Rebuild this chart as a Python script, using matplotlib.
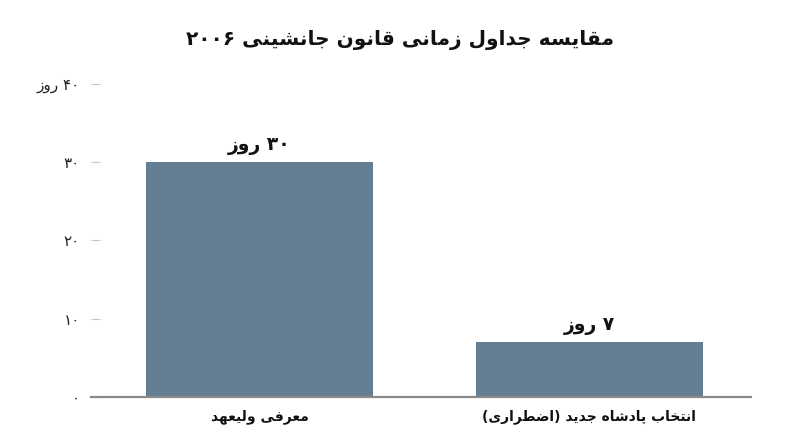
"""Persian bar chart: succession law timelines (2006)."""

import re

import matplotlib

matplotlib.use("Agg")
import matplotlib.pyplot as plt

# --- data -------------------------------------------------------------
title = "مقایسه جداول زمانی قانون جانشینی ۲۰۰۶"
categories = ["معرفی ولیعهد", "انتخاب پادشاه جدید (اضطراری)"]
days = [30, 7]
bar_labels = ["۳۰ روز", "۷ روز"]
y_ticks = [0, 10, 20, 30, 40]
y_tick_labels = ["۰", "۱۰", "۲۰", "۳۰", "۴۰ روز"]

# --- minimal arabic/persian shaping (matplotlib does no shaping or bidi) ----
# letter: (isolated, final, initial, medial); right-joining letters have 2 forms
_FORMS = {
    "ا": ("\uFE8D", "\uFE8E"),
    "ب": ("\uFE8F", "\uFE90", "\uFE91", "\uFE92"),
    "پ": ("\uFB56", "\uFB57", "\uFB58", "\uFB59"),
    "ت": ("\uFE95", "\uFE96", "\uFE97", "\uFE98"),
    "ج": ("\uFE9D", "\uFE9E", "\uFE9F", "\uFEA0"),
    "خ": ("\uFEA5", "\uFEA6", "\uFEA7", "\uFEA8"),
    "د": ("\uFEA9", "\uFEAA"),
    "ر": ("\uFEAD", "\uFEAE"),
    "ز": ("\uFEAF", "\uFEB0"),
    "س": ("\uFEB1", "\uFEB2", "\uFEB3", "\uFEB4"),
    "ش": ("\uFEB5", "\uFEB6", "\uFEB7", "\uFEB8"),
    "ض": ("\uFEBD", "\uFEBE", "\uFEBF", "\uFEC0"),
    "ط": ("\uFEC1", "\uFEC2", "\uFEC3", "\uFEC4"),
    "ع": ("\uFEC9", "\uFECA", "\uFECB", "\uFECC"),
    "ف": ("\uFED1", "\uFED2", "\uFED3", "\uFED4"),
    "ق": ("\uFED5", "\uFED6", "\uFED7", "\uFED8"),
    "ل": ("\uFEDD", "\uFEDE", "\uFEDF", "\uFEE0"),
    "م": ("\uFEE1", "\uFEE2", "\uFEE3", "\uFEE4"),
    "ن": ("\uFEE5", "\uFEE6", "\uFEE7", "\uFEE8"),
    "ه": ("\uFEE9", "\uFEEA", "\uFEEB", "\uFEEC"),
    "و": ("\uFEED", "\uFEEE"),
    "ی": ("\uFBFC", "\uFBFD", "\uFBFE", "\uFBFF"),
}
_MIRROR = {"(": ")", ")": "("}


def fa(text):
    out = []
    for i, ch in enumerate(text):
        forms = _FORMS.get(ch)
        if forms is None:
            out.append(ch)
            continue
        prev = text[i - 1] if i > 0 else ""
        nxt = text[i + 1] if i + 1 < len(text) else ""
        join_prev = prev in _FORMS and len(_FORMS[prev]) == 4
        join_next = len(forms) == 4 and nxt in _FORMS
        if join_prev and join_next:
            out.append(forms[3])
        elif join_prev:
            out.append(forms[1])
        elif join_next:
            out.append(forms[2])
        else:
            out.append(forms[0])
    vis = "".join(_MIRROR.get(c, c) for c in reversed(out))
    # digit runs stay left-to-right
    return re.sub(r"[0-9\u06F0-\u06F9]+", lambda m: m.group(0)[::-1], vis)


plt.rcParams["font.family"] = ["DejaVu Sans"]

BAR = "#647e93"
TEXT = "#111111"

fig = plt.figure(figsize=(8, 4.47), dpi=100)
ax = fig.add_axes([0.114, 0.112, 0.825, 0.700])

x = range(len(categories))
bars = ax.bar(x, days, width=0.69, color=BAR, zorder=2)

ax.set_xlim(-0.51, 1.49)
ax.set_ylim(0, 40)

for rect, lab in zip(bars, bar_labels):
    ax.annotate(
        fa(lab),
        (rect.get_x() + rect.get_width() / 2, rect.get_height()),
        xytext=(0, 5),
        textcoords="offset points",
        ha="center",
        va="bottom",
        fontsize=13.5,
        fontweight="bold",
        color=TEXT,
    )

ax.set_yticks(y_ticks)
ax.set_yticklabels([fa(t) for t in y_tick_labels], fontsize=11, color="#222222")
ax.tick_params(axis="y", direction="in", length=6.5, width=0.8, color="#c8c8c8", pad=8)

ax.set_xticks(list(x))
ax.set_xticklabels([fa(c) for c in categories], fontsize=10, fontweight="bold", color=TEXT)
ax.tick_params(axis="x", length=0, pad=9)

for s in ("top", "right", "left"):
    ax.spines[s].set_visible(False)
ax.spines["bottom"].set_color("#8a8a8a")
ax.spines["bottom"].set_linewidth(1.6)
ax.spines["bottom"].set_zorder(3)

fig.text(0.5, 0.91, fa(title), ha="center", va="center", fontsize=14.5,
         fontweight="bold", color=TEXT)

fig.savefig("out.png", dpi=100, facecolor="white")
